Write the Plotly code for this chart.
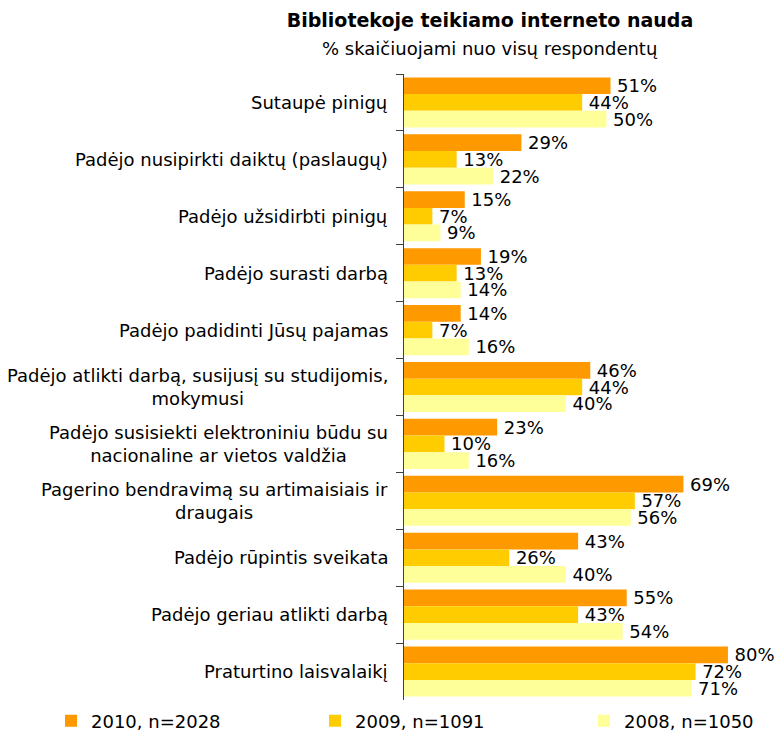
import plotly.graph_objects as go

categories = [
    "Sutaupė pinigų",
    "Padėjo nusipirkti daiktų (paslaugų)",
    "Padėjo užsidirbti pinigų",
    "Padėjo surasti darbą",
    "Padėjo padidinti Jūsų pajamas",
    "Padėjo atlikti darbą, susijusį su studijomis,<br>mokymusi",
    "Padėjo susisiekti elektroniniu būdu su<br>nacionaline ar vietos valdžia",
    "Pagerino bendravimą su artimaisiais ir<br>draugais",
    "Padėjo rūpintis sveikata",
    "Padėjo geriau atlikti darbą",
    "Praturtino laisvalaikį",
]
values_2010 = [51, 29, 15, 19, 14, 46, 23, 69, 43, 55, 80]
values_2009 = [44, 13, 7, 13, 7, 44, 10, 57, 26, 43, 72]
values_2008 = [50, 22, 9, 14, 16, 40, 16, 56, 40, 54, 71]
series_names = ["2010, n=2028", "2009, n=1091", "2008, n=1050"]
colors = ["#FF9900", "#FFCC00", "#FFFF99"]

FONT = "DejaVu Sans"
FS = 18
L, R, T, B = 404, 0, 74, 31
PW, PH = 781 - L - R, 731 - T - B

fig = go.Figure()
legend_ids = ["legend", "legend2", "legend3"]
for name, vals, col, lg in zip(series_names, [values_2010, values_2009, values_2008], colors, legend_ids):
    fig.add_trace(go.Bar(
        y=categories, x=vals, name=name, orientation="h",
        marker=dict(color=col, line=dict(width=0)),
        text=[f"\u2009{v}%" for v in vals], textposition="outside",
        constraintext="none",
        textfont=dict(family=FONT, size=FS, color="#000000"),
        cliponaxis=False, legend=lg, hoverinfo="skip",
    ))

annotations = [dict(text="% skaičiuojami nuo visų respondentų", xref="paper", yref="paper",
                    x=(490 - L) / PW, y=1 + (T - 48) / PH, xanchor="center", yanchor="middle",
                    showarrow=False, font=dict(family=FONT, size=FS, color="#000000"))]
for c in categories:
    annotations.append(dict(text=c, xref="paper", yref="y", x=-(L - 390) / PW, y=c,
                            xanchor="right", yanchor="middle", align="center", showarrow=False,
                            font=dict(family=FONT, size=FS, color="#000000")))


def legend_at(px):
    return dict(orientation="h", x=(px - L) / PW, xanchor="left", y=-(721 - (731 - B)) / PH,
                yanchor="middle", bgcolor="rgba(0,0,0,0)", borderwidth=0,
                font=dict(family=FONT, size=FS, color="#000000"), itemwidth=30)


fig.update_layout(
    template="none",
    width=781, height=731,
    margin=dict(l=L, r=R, t=T, b=B, autoexpand=False),
    barmode="group", bargap=0.12, bargroupgap=0,
    plot_bgcolor="white", paper_bgcolor="white",
    font=dict(family=FONT, size=FS, color="#000000"),
    showlegend=True,
    legend=legend_at(51), legend2=legend_at(315), legend3=legend_at(584),
    title=dict(text="<b>Bibliotekoje teikiamo interneto nauda</b>", x=490 / 781, xanchor="center",
               xref="container", y=1 - 20 / 731, yanchor="middle",
               font=dict(family=FONT, size=19, color="#000000")),
    annotations=annotations,
)
fig.update_xaxes(range=[0, 93.1], visible=False, showgrid=False, zeroline=False, automargin=False)
fig.update_yaxes(autorange="reversed", showline=True, linecolor="#404040", linewidth=1,
                 ticks="outside", tickson="boundaries", ticklen=7, tickcolor="#404040",
                 showgrid=False, showticklabels=False, automargin=False, zeroline=False)

fig.write_html("out.html", config={"displayModeBar": False},
               post_script="document.body.style.margin='0px';")
